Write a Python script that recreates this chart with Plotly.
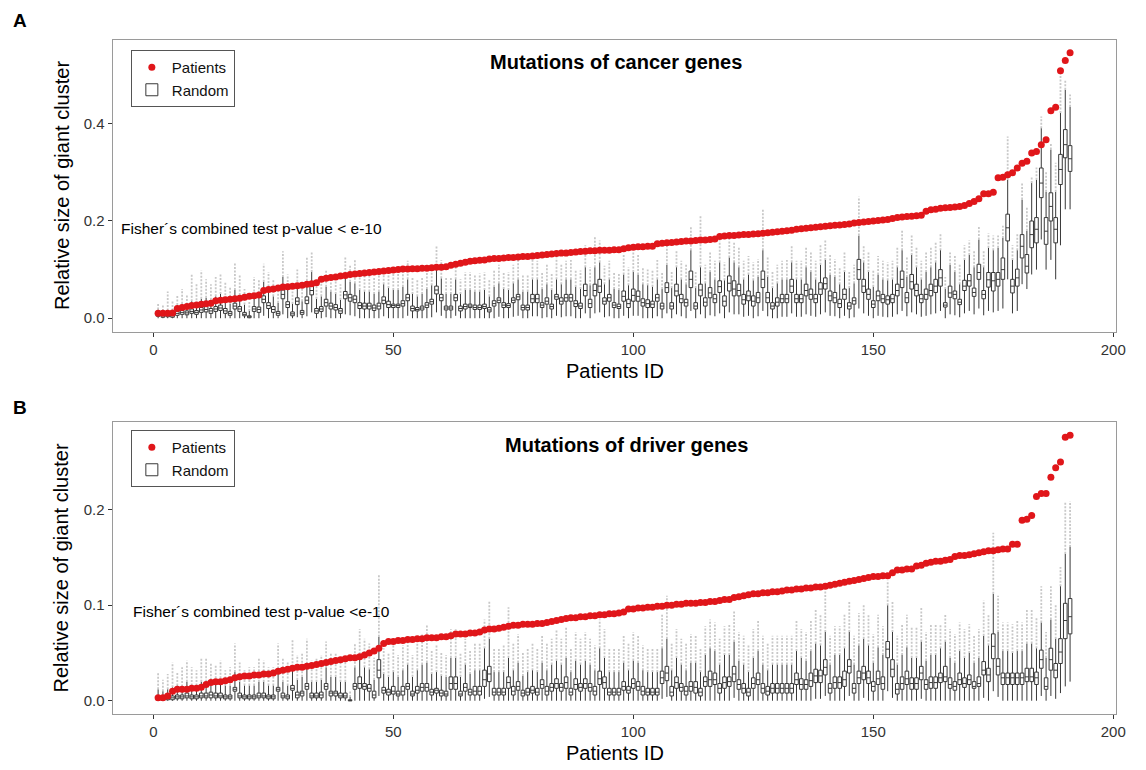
import plotly.graph_objects as go

W, H = 1146, 770
FONT = "Liberation Sans, Arial, Helvetica, sans-serif"

PATIENT_IDS = list(range(1, 192))

# ---------------- Panel A: mutations of cancer genes ----------------
A_PATIENTS = [
    0.010, 0.010, 0.010, 0.011, 0.020, 0.022, 0.024, 0.026, 0.027, 0.029,
    0.030, 0.031, 0.036, 0.037, 0.038, 0.039, 0.040, 0.041, 0.043, 0.045,
    0.046, 0.048, 0.057, 0.059, 0.060, 0.062, 0.064, 0.065, 0.066, 0.067,
    0.068, 0.070, 0.071, 0.073, 0.080, 0.082, 0.084, 0.085, 0.087, 0.088,
    0.090, 0.091, 0.092, 0.093, 0.094, 0.095, 0.096, 0.097, 0.098, 0.099,
    0.100, 0.101, 0.101, 0.102, 0.102, 0.103, 0.103, 0.104, 0.105, 0.105,
    0.106, 0.109, 0.111, 0.113, 0.115, 0.117, 0.118, 0.119, 0.120, 0.122,
    0.123, 0.123, 0.124, 0.125, 0.125, 0.126, 0.127, 0.127, 0.128, 0.129,
    0.130, 0.131, 0.132, 0.133, 0.134, 0.134, 0.135, 0.136, 0.137, 0.138,
    0.139, 0.139, 0.140, 0.140, 0.140, 0.141, 0.141, 0.143, 0.145, 0.146,
    0.147, 0.147, 0.148, 0.148, 0.153, 0.154, 0.155, 0.156, 0.157, 0.158,
    0.159, 0.159, 0.160, 0.161, 0.161, 0.162, 0.163, 0.168, 0.169, 0.170,
    0.170, 0.171, 0.172, 0.172, 0.173, 0.174, 0.175, 0.176, 0.177, 0.178,
    0.179, 0.180, 0.181, 0.183, 0.184, 0.185, 0.186, 0.187, 0.188, 0.189,
    0.190, 0.191, 0.192, 0.193, 0.194, 0.196, 0.197, 0.198, 0.199, 0.200,
    0.201, 0.202, 0.203, 0.205, 0.207, 0.208, 0.209, 0.210, 0.211, 0.212,
    0.220, 0.223, 0.224, 0.226, 0.227, 0.228, 0.229, 0.230, 0.232, 0.236,
    0.240, 0.246, 0.256, 0.256, 0.259, 0.289, 0.290, 0.295, 0.299, 0.309,
    0.319, 0.323, 0.340, 0.343, 0.357, 0.367, 0.427, 0.434, 0.509, 0.530,
    0.546]

A_Q1 = [
    0.004, 0.002, 0.003, 0.002, 0.006, 0.008, 0.007, 0.010, 0.008, 0.012,
    0.013, 0.010, 0.014, 0.016, 0.010, 0.006, 0.019, 0.014, 0.005, 0.001,
    0.014, 0.012, 0.032, 0.020, 0.012, 0.006, 0.040, 0.022, 0.005, 0.028,
    0.008, 0.030, 0.048, 0.010, 0.014, 0.025, 0.019, 0.017, 0.010, 0.040,
    0.035, 0.032, 0.020, 0.019, 0.019, 0.016, 0.019, 0.030, 0.022, 0.022,
    0.022, 0.025, 0.036, 0.015, 0.015, 0.017, 0.022, 0.029, 0.050, 0.036,
    0.017, 0.017, 0.036, 0.015, 0.019, 0.022, 0.018, 0.018, 0.020, 0.013,
    0.025, 0.032, 0.022, 0.022, 0.032, 0.038, 0.017, 0.017, 0.032, 0.032,
    0.022, 0.029, 0.019, 0.039, 0.029, 0.035, 0.035, 0.024, 0.020, 0.046,
    0.022, 0.046, 0.053, 0.029, 0.035, 0.022, 0.020, 0.035, 0.022, 0.035,
    0.035, 0.025, 0.022, 0.022, 0.035, 0.019, 0.053, 0.019, 0.046, 0.032,
    0.025, 0.063, 0.019, 0.046, 0.025, 0.042, 0.032, 0.053, 0.025, 0.056,
    0.046, 0.046, 0.029, 0.036, 0.025, 0.032, 0.063, 0.032, 0.019, 0.025,
    0.032, 0.032, 0.053, 0.032, 0.032, 0.046, 0.039, 0.032, 0.049, 0.060,
    0.036, 0.032, 0.022, 0.039, 0.019, 0.029, 0.080, 0.053, 0.039, 0.022,
    0.036, 0.032, 0.029, 0.032, 0.046, 0.063, 0.032, 0.060, 0.046, 0.032,
    0.039, 0.046, 0.053, 0.066, 0.023, 0.043, 0.040, 0.028, 0.057, 0.066,
    0.045, 0.080, 0.040, 0.064, 0.056, 0.066, 0.080, 0.159, 0.052, 0.066,
    0.124, 0.093, 0.145, 0.155, 0.248, 0.152, 0.200, 0.155, 0.275, 0.330,
    0.302]

A_MED = [
    0.007, 0.005, 0.006, 0.005, 0.010, 0.012, 0.011, 0.014, 0.012, 0.017,
    0.018, 0.015, 0.019, 0.021, 0.015, 0.010, 0.025, 0.019, 0.008, 0.003,
    0.019, 0.018, 0.039, 0.026, 0.018, 0.010, 0.049, 0.028, 0.009, 0.035,
    0.012, 0.037, 0.057, 0.015, 0.019, 0.032, 0.025, 0.022, 0.015, 0.048,
    0.042, 0.039, 0.026, 0.025, 0.025, 0.021, 0.025, 0.037, 0.028, 0.026,
    0.026, 0.030, 0.042, 0.020, 0.018, 0.021, 0.027, 0.034, 0.058, 0.042,
    0.021, 0.021, 0.042, 0.020, 0.024, 0.025, 0.022, 0.022, 0.024, 0.017,
    0.030, 0.037, 0.027, 0.026, 0.037, 0.044, 0.022, 0.022, 0.040, 0.040,
    0.027, 0.035, 0.024, 0.044, 0.035, 0.042, 0.042, 0.030, 0.025, 0.057,
    0.030, 0.057, 0.066, 0.035, 0.042, 0.027, 0.024, 0.045, 0.030, 0.047,
    0.045, 0.032, 0.030, 0.029, 0.042, 0.025, 0.063, 0.025, 0.056, 0.040,
    0.032, 0.080, 0.025, 0.058, 0.033, 0.052, 0.040, 0.065, 0.035, 0.072,
    0.060, 0.057, 0.038, 0.046, 0.035, 0.042, 0.080, 0.042, 0.025, 0.033,
    0.040, 0.040, 0.066, 0.040, 0.040, 0.057, 0.049, 0.040, 0.060, 0.071,
    0.046, 0.042, 0.030, 0.049, 0.025, 0.036, 0.100, 0.066, 0.049, 0.029,
    0.046, 0.040, 0.038, 0.040, 0.057, 0.080, 0.042, 0.075, 0.057, 0.040,
    0.049, 0.057, 0.066, 0.083, 0.027, 0.052, 0.049, 0.033, 0.066, 0.077,
    0.053, 0.094, 0.049, 0.079, 0.077, 0.080, 0.100, 0.186, 0.066, 0.083,
    0.148, 0.107, 0.172, 0.183, 0.278, 0.179, 0.230, 0.183, 0.306, 0.357,
    0.328]

A_Q3 = [
    0.010, 0.008, 0.009, 0.008, 0.014, 0.016, 0.015, 0.019, 0.016, 0.022,
    0.024, 0.020, 0.024, 0.027, 0.020, 0.014, 0.031, 0.024, 0.012, 0.005,
    0.024, 0.023, 0.046, 0.032, 0.024, 0.014, 0.058, 0.034, 0.013, 0.042,
    0.016, 0.044, 0.066, 0.020, 0.024, 0.039, 0.031, 0.028, 0.020, 0.055,
    0.049, 0.046, 0.032, 0.031, 0.031, 0.027, 0.031, 0.044, 0.035, 0.029,
    0.029, 0.036, 0.049, 0.025, 0.022, 0.025, 0.032, 0.039, 0.066, 0.049,
    0.025, 0.025, 0.049, 0.025, 0.029, 0.029, 0.027, 0.027, 0.029, 0.022,
    0.036, 0.042, 0.032, 0.030, 0.042, 0.049, 0.027, 0.027, 0.049, 0.049,
    0.032, 0.042, 0.029, 0.049, 0.042, 0.049, 0.049, 0.036, 0.031, 0.070,
    0.039, 0.070, 0.080, 0.042, 0.049, 0.032, 0.029, 0.056, 0.039, 0.060,
    0.056, 0.040, 0.038, 0.035, 0.049, 0.031, 0.073, 0.032, 0.070, 0.049,
    0.039, 0.097, 0.032, 0.070, 0.042, 0.063, 0.049, 0.077, 0.046, 0.087,
    0.077, 0.070, 0.049, 0.056, 0.046, 0.053, 0.097, 0.053, 0.032, 0.042,
    0.049, 0.049, 0.080, 0.049, 0.049, 0.070, 0.060, 0.049, 0.073, 0.083,
    0.056, 0.053, 0.039, 0.060, 0.032, 0.042, 0.121, 0.080, 0.060, 0.036,
    0.056, 0.049, 0.046, 0.049, 0.070, 0.097, 0.053, 0.090, 0.070, 0.049,
    0.060, 0.070, 0.080, 0.100, 0.032, 0.066, 0.056, 0.039, 0.078, 0.090,
    0.062, 0.111, 0.057, 0.094, 0.094, 0.094, 0.124, 0.214, 0.080, 0.101,
    0.172, 0.131, 0.200, 0.207, 0.309, 0.207, 0.258, 0.207, 0.337, 0.388,
    0.355]

A_LO = [
    0.000, 0.000, 0.000, 0.000, 0.000, 0.000, 0.000, 0.000, 0.000, 0.000,
    0.000, 0.000, 0.000, 0.000, 0.000, 0.000, 0.000, 0.000, 0.000, 0.000,
    0.000, 0.000, 0.005, 0.000, 0.000, 0.000, 0.008, 0.000, 0.000, 0.002,
    0.000, 0.004, 0.012, 0.000, 0.000, 0.002, 0.000, 0.000, 0.000, 0.008,
    0.006, 0.004, 0.000, 0.000, 0.000, 0.000, 0.000, 0.004, 0.000, 0.000,
    0.000, 0.000, 0.005, 0.000, 0.000, 0.000, 0.000, 0.002, 0.012, 0.005,
    0.000, 0.000, 0.005, 0.000, 0.000, 0.000, 0.000, 0.000, 0.000, 0.000,
    0.000, 0.003, 0.000, 0.000, 0.003, 0.005, 0.000, 0.000, 0.004, 0.004,
    0.000, 0.002, 0.000, 0.005, 0.002, 0.004, 0.004, 0.000, 0.000, 0.010,
    0.000, 0.010, 0.012, 0.002, 0.004, 0.000, 0.000, 0.005, 0.000, 0.005,
    0.005, 0.000, 0.000, 0.000, 0.004, 0.000, 0.010, 0.000, 0.008, 0.004,
    0.000, 0.015, 0.000, 0.008, 0.000, 0.006, 0.004, 0.010, 0.000, 0.012,
    0.008, 0.008, 0.003, 0.005, 0.000, 0.004, 0.015, 0.004, 0.000, 0.000,
    0.003, 0.003, 0.010, 0.003, 0.003, 0.008, 0.005, 0.003, 0.008, 0.012,
    0.005, 0.004, 0.000, 0.005, 0.000, 0.002, 0.020, 0.010, 0.005, 0.000,
    0.005, 0.003, 0.002, 0.003, 0.008, 0.015, 0.004, 0.012, 0.008, 0.003,
    0.005, 0.008, 0.010, 0.015, 0.000, 0.008, 0.006, 0.002, 0.010, 0.015,
    0.008, 0.020, 0.006, 0.015, 0.012, 0.015, 0.020, 0.080, 0.010, 0.015,
    0.070, 0.060, 0.090, 0.100, 0.162, 0.100, 0.120, 0.080, 0.150, 0.224,
    0.224]

A_HI = [
    0.018, 0.015, 0.016, 0.016, 0.027, 0.030, 0.028, 0.035, 0.030, 0.040,
    0.042, 0.038, 0.045, 0.050, 0.040, 0.030, 0.058, 0.048, 0.028, 0.015,
    0.048, 0.045, 0.075, 0.058, 0.045, 0.032, 0.085, 0.060, 0.030, 0.068,
    0.035, 0.070, 0.095, 0.040, 0.045, 0.065, 0.055, 0.050, 0.038, 0.085,
    0.075, 0.072, 0.058, 0.055, 0.055, 0.050, 0.055, 0.070, 0.062, 0.058,
    0.058, 0.065, 0.080, 0.050, 0.045, 0.050, 0.060, 0.068, 0.100, 0.082,
    0.050, 0.050, 0.080, 0.050, 0.058, 0.058, 0.055, 0.055, 0.058, 0.045,
    0.065, 0.072, 0.060, 0.058, 0.072, 0.080, 0.055, 0.055, 0.080, 0.080,
    0.060, 0.070, 0.058, 0.080, 0.070, 0.080, 0.080, 0.065, 0.060, 0.105,
    0.068, 0.105, 0.115, 0.070, 0.080, 0.060, 0.058, 0.090, 0.068, 0.095,
    0.090, 0.070, 0.068, 0.065, 0.080, 0.060, 0.110, 0.062, 0.105, 0.080,
    0.070, 0.140, 0.062, 0.105, 0.072, 0.095, 0.080, 0.115, 0.078, 0.125,
    0.115, 0.105, 0.080, 0.090, 0.078, 0.085, 0.140, 0.085, 0.062, 0.072,
    0.080, 0.080, 0.115, 0.080, 0.080, 0.105, 0.095, 0.080, 0.110, 0.120,
    0.090, 0.085, 0.070, 0.095, 0.062, 0.072, 0.170, 0.115, 0.095, 0.065,
    0.090, 0.080, 0.078, 0.080, 0.105, 0.140, 0.085, 0.130, 0.105, 0.080,
    0.095, 0.105, 0.115, 0.140, 0.060, 0.110, 0.095, 0.070, 0.120, 0.130,
    0.105, 0.162, 0.105, 0.145, 0.140, 0.145, 0.165, 0.285, 0.120, 0.140,
    0.244, 0.180, 0.278, 0.285, 0.391, 0.260, 0.347, 0.260, 0.422, 0.470,
    0.435]

A_MAX = [
    0.030, 0.028, 0.055, 0.035, 0.048, 0.060, 0.050, 0.090, 0.070, 0.098,
    0.080, 0.070, 0.085, 0.090, 0.075, 0.065, 0.115, 0.090, 0.060, 0.035,
    0.085, 0.080, 0.112, 0.095, 0.080, 0.060, 0.138, 0.090, 0.055, 0.100,
    0.065, 0.125, 0.138, 0.075, 0.085, 0.100, 0.090, 0.085, 0.070, 0.125,
    0.110, 0.122, 0.090, 0.095, 0.090, 0.085, 0.095, 0.105, 0.100, 0.095,
    0.092, 0.100, 0.118, 0.085, 0.078, 0.085, 0.095, 0.105, 0.150, 0.120,
    0.085, 0.085, 0.115, 0.080, 0.095, 0.095, 0.090, 0.092, 0.095, 0.080,
    0.100, 0.110, 0.095, 0.095, 0.110, 0.128, 0.090, 0.090, 0.120, 0.118,
    0.095, 0.110, 0.092, 0.125, 0.112, 0.118, 0.120, 0.100, 0.098, 0.150,
    0.105, 0.168, 0.160, 0.108, 0.118, 0.095, 0.092, 0.130, 0.105, 0.135,
    0.130, 0.105, 0.100, 0.100, 0.120, 0.095, 0.150, 0.098, 0.140, 0.118,
    0.110, 0.190, 0.098, 0.213, 0.110, 0.135, 0.118, 0.160, 0.115, 0.165,
    0.155, 0.145, 0.118, 0.128, 0.115, 0.122, 0.225, 0.125, 0.098, 0.110,
    0.118, 0.120, 0.150, 0.118, 0.118, 0.145, 0.135, 0.118, 0.150, 0.160,
    0.130, 0.122, 0.105, 0.135, 0.098, 0.110, 0.250, 0.150, 0.135, 0.100,
    0.128, 0.118, 0.115, 0.118, 0.145, 0.180, 0.125, 0.170, 0.145, 0.118,
    0.135, 0.145, 0.155, 0.175, 0.085, 0.135, 0.130, 0.110, 0.150, 0.160,
    0.140, 0.190, 0.140, 0.175, 0.170, 0.170, 0.190, 0.374, 0.150, 0.175,
    0.280, 0.230, 0.290, 0.310, 0.415, 0.300, 0.360, 0.320, 0.511, 0.490,
    0.460]

# ---------------- Panel B: mutations of driver genes ----------------
B_PATIENTS = [
    0.003, 0.003, 0.005, 0.010, 0.012, 0.012, 0.012, 0.013, 0.013, 0.014,
    0.017, 0.019, 0.020, 0.020, 0.021, 0.022, 0.024, 0.025, 0.026, 0.026,
    0.027, 0.027, 0.028, 0.028, 0.029, 0.031, 0.032, 0.033, 0.034, 0.035,
    0.035, 0.036, 0.037, 0.038, 0.039, 0.040, 0.041, 0.042, 0.043, 0.044,
    0.045, 0.045, 0.046, 0.048, 0.050, 0.052, 0.055, 0.060, 0.062, 0.062,
    0.063, 0.063, 0.064, 0.064, 0.065, 0.065, 0.066, 0.066, 0.066, 0.067,
    0.067, 0.068, 0.070, 0.070, 0.070, 0.071, 0.071, 0.072, 0.074, 0.075,
    0.075, 0.076, 0.077, 0.078, 0.079, 0.079, 0.080, 0.080, 0.080, 0.081,
    0.081, 0.082, 0.083, 0.084, 0.085, 0.086, 0.087, 0.087, 0.088, 0.088,
    0.089, 0.089, 0.090, 0.090, 0.091, 0.091, 0.092, 0.093, 0.096, 0.096,
    0.097, 0.097, 0.098, 0.098, 0.099, 0.099, 0.100, 0.100, 0.101, 0.101,
    0.102, 0.102, 0.102, 0.103, 0.103, 0.104, 0.104, 0.105, 0.106, 0.106,
    0.108, 0.109, 0.110, 0.111, 0.112, 0.112, 0.113, 0.113, 0.114, 0.114,
    0.115, 0.116, 0.116, 0.117, 0.117, 0.118, 0.118, 0.119, 0.119, 0.120,
    0.121, 0.122, 0.123, 0.124, 0.125, 0.126, 0.127, 0.128, 0.129, 0.130,
    0.130, 0.131, 0.131, 0.134, 0.137, 0.137, 0.138, 0.138, 0.141, 0.142,
    0.144, 0.145, 0.146, 0.146, 0.147, 0.148, 0.151, 0.152, 0.152, 0.153,
    0.154, 0.155, 0.156, 0.157, 0.157, 0.158, 0.159, 0.159, 0.164, 0.164,
    0.189, 0.190, 0.194, 0.214, 0.217, 0.217, 0.234, 0.244, 0.250, 0.276,
    0.278]

B_Q1 = [
    0.001, 0.001, 0.001, 0.001, 0.002, 0.002, 0.003, 0.002, 0.002, 0.003,
    0.003, 0.003, 0.003, 0.003, 0.002, 0.002, 0.010, 0.003, 0.002, 0.002,
    0.002, 0.003, 0.003, 0.002, 0.002, 0.010, 0.003, 0.002, 0.011, 0.003,
    0.005, 0.012, 0.003, 0.003, 0.003, 0.012, 0.005, 0.005, 0.003, 0.003,
    0.000, 0.012, 0.013, 0.012, 0.010, 0.003, 0.024, 0.008, 0.006, 0.007,
    0.005, 0.006, 0.012, 0.005, 0.008, 0.010, 0.010, 0.006, 0.008, 0.005,
    0.005, 0.012, 0.012, 0.005, 0.010, 0.006, 0.006, 0.006, 0.015, 0.020,
    0.006, 0.006, 0.006, 0.013, 0.006, 0.011, 0.005, 0.006, 0.008, 0.006,
    0.013, 0.006, 0.010, 0.013, 0.010, 0.013, 0.006, 0.012, 0.010, 0.013,
    0.010, 0.006, 0.017, 0.013, 0.006, 0.006, 0.006, 0.011, 0.008, 0.013,
    0.011, 0.006, 0.006, 0.006, 0.006, 0.018, 0.021, 0.005, 0.013, 0.010,
    0.006, 0.010, 0.008, 0.005, 0.015, 0.015, 0.017, 0.008, 0.013, 0.015,
    0.020, 0.012, 0.008, 0.005, 0.013, 0.017, 0.008, 0.006, 0.008, 0.008,
    0.008, 0.008, 0.008, 0.017, 0.012, 0.012, 0.015, 0.019, 0.019, 0.027,
    0.008, 0.013, 0.013, 0.015, 0.029, 0.008, 0.018, 0.022, 0.018, 0.010,
    0.017, 0.012, 0.045, 0.025, 0.007, 0.012, 0.017, 0.012, 0.012, 0.022,
    0.012, 0.013, 0.013, 0.019, 0.020, 0.013, 0.011, 0.017, 0.014, 0.017,
    0.013, 0.015, 0.027, 0.020, 0.044, 0.027, 0.017, 0.017, 0.017, 0.017,
    0.017, 0.020, 0.020, 0.017, 0.034, 0.012, 0.032, 0.024, 0.039, 0.065,
    0.070]

B_MED = [
    0.003, 0.003, 0.003, 0.003, 0.004, 0.004, 0.005, 0.004, 0.004, 0.005,
    0.005, 0.006, 0.005, 0.005, 0.004, 0.004, 0.012, 0.005, 0.004, 0.004,
    0.004, 0.005, 0.005, 0.004, 0.004, 0.012, 0.005, 0.004, 0.013, 0.006,
    0.008, 0.015, 0.005, 0.005, 0.006, 0.015, 0.008, 0.008, 0.005, 0.005,
    0.000, 0.015, 0.018, 0.015, 0.013, 0.006, 0.032, 0.011, 0.009, 0.010,
    0.007, 0.010, 0.015, 0.007, 0.011, 0.014, 0.014, 0.009, 0.011, 0.008,
    0.007, 0.018, 0.018, 0.007, 0.014, 0.009, 0.010, 0.010, 0.022, 0.028,
    0.009, 0.009, 0.009, 0.019, 0.010, 0.015, 0.008, 0.009, 0.011, 0.009,
    0.017, 0.010, 0.014, 0.018, 0.014, 0.019, 0.009, 0.017, 0.014, 0.018,
    0.014, 0.010, 0.023, 0.019, 0.009, 0.009, 0.009, 0.015, 0.011, 0.018,
    0.015, 0.010, 0.009, 0.009, 0.009, 0.024, 0.029, 0.009, 0.019, 0.014,
    0.010, 0.015, 0.014, 0.009, 0.020, 0.022, 0.022, 0.013, 0.019, 0.020,
    0.028, 0.017, 0.013, 0.009, 0.018, 0.022, 0.013, 0.010, 0.013, 0.013,
    0.013, 0.013, 0.013, 0.022, 0.017, 0.017, 0.021, 0.026, 0.026, 0.035,
    0.013, 0.019, 0.019, 0.022, 0.036, 0.013, 0.024, 0.029, 0.024, 0.015,
    0.023, 0.018, 0.054, 0.033, 0.012, 0.018, 0.023, 0.018, 0.018, 0.029,
    0.017, 0.019, 0.019, 0.024, 0.025, 0.017, 0.015, 0.022, 0.018, 0.022,
    0.015, 0.018, 0.032, 0.027, 0.057, 0.036, 0.024, 0.024, 0.024, 0.024,
    0.024, 0.025, 0.025, 0.024, 0.043, 0.015, 0.043, 0.032, 0.051, 0.084,
    0.088]

B_Q3 = [
    0.004, 0.004, 0.004, 0.005, 0.006, 0.006, 0.008, 0.006, 0.006, 0.008,
    0.008, 0.009, 0.008, 0.008, 0.006, 0.006, 0.014, 0.008, 0.006, 0.006,
    0.006, 0.008, 0.008, 0.006, 0.006, 0.014, 0.008, 0.006, 0.016, 0.009,
    0.010, 0.018, 0.008, 0.008, 0.009, 0.018, 0.010, 0.010, 0.008, 0.008,
    0.001, 0.018, 0.025, 0.018, 0.017, 0.010, 0.043, 0.014, 0.012, 0.015,
    0.010, 0.015, 0.018, 0.010, 0.015, 0.018, 0.018, 0.012, 0.013, 0.011,
    0.010, 0.025, 0.025, 0.010, 0.018, 0.012, 0.015, 0.015, 0.032, 0.036,
    0.013, 0.013, 0.013, 0.025, 0.015, 0.020, 0.011, 0.013, 0.015, 0.013,
    0.022, 0.015, 0.018, 0.023, 0.018, 0.025, 0.013, 0.023, 0.018, 0.023,
    0.018, 0.015, 0.031, 0.025, 0.013, 0.013, 0.013, 0.020, 0.015, 0.023,
    0.020, 0.015, 0.013, 0.013, 0.013, 0.031, 0.036, 0.015, 0.025, 0.018,
    0.015, 0.020, 0.020, 0.013, 0.025, 0.031, 0.029, 0.018, 0.025, 0.025,
    0.036, 0.022, 0.018, 0.013, 0.024, 0.029, 0.018, 0.015, 0.018, 0.018,
    0.018, 0.018, 0.018, 0.029, 0.023, 0.022, 0.029, 0.033, 0.032, 0.043,
    0.018, 0.025, 0.025, 0.031, 0.043, 0.018, 0.031, 0.036, 0.031, 0.020,
    0.031, 0.025, 0.062, 0.043, 0.018, 0.025, 0.031, 0.024, 0.024, 0.036,
    0.022, 0.025, 0.025, 0.029, 0.036, 0.024, 0.020, 0.029, 0.024, 0.027,
    0.020, 0.025, 0.041, 0.034, 0.070, 0.044, 0.029, 0.029, 0.029, 0.029,
    0.029, 0.034, 0.034, 0.030, 0.053, 0.024, 0.055, 0.039, 0.065, 0.102,
    0.107]

B_LO = [
    0.000, 0.000, 0.000, 0.000, 0.000, 0.000, 0.000, 0.000, 0.000, 0.000,
    0.000, 0.000, 0.000, 0.000, 0.000, 0.000, 0.000, 0.000, 0.000, 0.000,
    0.000, 0.000, 0.000, 0.000, 0.000, 0.000, 0.000, 0.000, 0.000, 0.000,
    0.000, 0.000, 0.000, 0.000, 0.000, 0.000, 0.000, 0.000, 0.000, 0.000,
    0.000, 0.000, 0.000, 0.000, 0.000, 0.000, 0.005, 0.000, 0.000, 0.000,
    0.000, 0.000, 0.000, 0.000, 0.000, 0.000, 0.000, 0.000, 0.000, 0.000,
    0.000, 0.000, 0.000, 0.000, 0.000, 0.000, 0.000, 0.000, 0.002, 0.004,
    0.000, 0.000, 0.000, 0.000, 0.000, 0.000, 0.000, 0.000, 0.000, 0.000,
    0.000, 0.000, 0.000, 0.000, 0.000, 0.000, 0.000, 0.000, 0.000, 0.000,
    0.000, 0.000, 0.000, 0.000, 0.000, 0.000, 0.000, 0.000, 0.000, 0.000,
    0.000, 0.000, 0.000, 0.000, 0.000, 0.002, 0.004, 0.000, 0.000, 0.000,
    0.000, 0.000, 0.000, 0.000, 0.000, 0.000, 0.000, 0.000, 0.000, 0.000,
    0.003, 0.000, 0.000, 0.000, 0.000, 0.000, 0.000, 0.000, 0.000, 0.000,
    0.000, 0.000, 0.000, 0.000, 0.000, 0.000, 0.000, 0.002, 0.002, 0.005,
    0.000, 0.000, 0.000, 0.000, 0.005, 0.000, 0.000, 0.003, 0.000, 0.000,
    0.000, 0.000, 0.010, 0.003, 0.000, 0.000, 0.000, 0.000, 0.000, 0.002,
    0.000, 0.000, 0.000, 0.000, 0.000, 0.000, 0.000, 0.000, 0.000, 0.000,
    0.000, 0.000, 0.003, 0.000, 0.010, 0.004, 0.000, 0.000, 0.000, 0.000,
    0.000, 0.000, 0.000, 0.000, 0.005, 0.000, 0.005, 0.002, 0.008, 0.015,
    0.020]

B_HI = [
    0.012, 0.010, 0.012, 0.014, 0.016, 0.015, 0.020, 0.016, 0.016, 0.020,
    0.020, 0.022, 0.020, 0.020, 0.016, 0.016, 0.030, 0.020, 0.016, 0.016,
    0.016, 0.020, 0.020, 0.016, 0.016, 0.030, 0.020, 0.016, 0.032, 0.022,
    0.025, 0.035, 0.020, 0.020, 0.022, 0.035, 0.025, 0.025, 0.020, 0.020,
    0.004, 0.035, 0.045, 0.035, 0.033, 0.022, 0.067, 0.028, 0.025, 0.030,
    0.025, 0.032, 0.038, 0.025, 0.032, 0.038, 0.040, 0.028, 0.030, 0.026,
    0.025, 0.045, 0.045, 0.025, 0.038, 0.028, 0.032, 0.032, 0.055, 0.065,
    0.030, 0.030, 0.030, 0.045, 0.032, 0.040, 0.026, 0.030, 0.032, 0.030,
    0.040, 0.032, 0.038, 0.042, 0.038, 0.045, 0.030, 0.042, 0.038, 0.042,
    0.038, 0.032, 0.055, 0.045, 0.030, 0.030, 0.030, 0.040, 0.032, 0.042,
    0.040, 0.032, 0.030, 0.030, 0.030, 0.055, 0.065, 0.032, 0.045, 0.038,
    0.032, 0.040, 0.040, 0.030, 0.048, 0.055, 0.052, 0.038, 0.048, 0.048,
    0.062, 0.042, 0.038, 0.030, 0.045, 0.052, 0.038, 0.032, 0.038, 0.038,
    0.038, 0.038, 0.038, 0.052, 0.045, 0.042, 0.052, 0.060, 0.058, 0.072,
    0.038, 0.048, 0.048, 0.055, 0.072, 0.038, 0.058, 0.065, 0.058, 0.040,
    0.056, 0.048, 0.100, 0.072, 0.038, 0.048, 0.056, 0.045, 0.045, 0.062,
    0.042, 0.048, 0.048, 0.055, 0.062, 0.045, 0.040, 0.052, 0.045, 0.050,
    0.040, 0.045, 0.068, 0.058, 0.112, 0.072, 0.052, 0.052, 0.050, 0.052,
    0.052, 0.060, 0.060, 0.055, 0.082, 0.045, 0.085, 0.065, 0.120, 0.154,
    0.161]

B_MAX = [
    0.030, 0.022, 0.028, 0.040, 0.030, 0.035, 0.042, 0.035, 0.032, 0.045,
    0.045, 0.040, 0.038, 0.042, 0.032, 0.035, 0.060, 0.040, 0.032, 0.035,
    0.035, 0.045, 0.042, 0.035, 0.035, 0.060, 0.045, 0.040, 0.065, 0.048,
    0.050, 0.065, 0.042, 0.045, 0.048, 0.062, 0.050, 0.050, 0.045, 0.042,
    0.010, 0.060, 0.075, 0.065, 0.060, 0.045, 0.133, 0.055, 0.050, 0.058,
    0.048, 0.058, 0.065, 0.048, 0.060, 0.070, 0.079, 0.052, 0.058, 0.050,
    0.048, 0.075, 0.075, 0.050, 0.065, 0.052, 0.060, 0.060, 0.085, 0.105,
    0.055, 0.055, 0.058, 0.098, 0.060, 0.070, 0.050, 0.055, 0.060, 0.055,
    0.068, 0.060, 0.065, 0.075, 0.065, 0.078, 0.055, 0.072, 0.065, 0.072,
    0.065, 0.058, 0.085, 0.075, 0.055, 0.055, 0.055, 0.068, 0.060, 0.072,
    0.068, 0.058, 0.055, 0.055, 0.055, 0.090, 0.110, 0.060, 0.075, 0.065,
    0.060, 0.070, 0.068, 0.055, 0.078, 0.085, 0.082, 0.065, 0.078, 0.080,
    0.095, 0.072, 0.068, 0.058, 0.075, 0.085, 0.068, 0.060, 0.068, 0.068,
    0.068, 0.068, 0.068, 0.085, 0.075, 0.072, 0.085, 0.095, 0.090, 0.115,
    0.068, 0.078, 0.078, 0.090, 0.105, 0.068, 0.092, 0.100, 0.090, 0.070,
    0.090, 0.078, 0.126, 0.105, 0.068, 0.080, 0.090, 0.078, 0.078, 0.098,
    0.072, 0.080, 0.080, 0.080, 0.090, 0.075, 0.070, 0.082, 0.075, 0.080,
    0.068, 0.075, 0.105, 0.090, 0.176, 0.110, 0.082, 0.082, 0.080, 0.085,
    0.082, 0.095, 0.095, 0.088, 0.120, 0.072, 0.120, 0.100, 0.140, 0.209,
    0.209]

for _arr in (A_PATIENTS, A_Q1, A_MED, A_Q3, A_LO, A_HI, A_MAX,
             B_PATIENTS, B_Q1, B_MED, B_Q3, B_LO, B_HI, B_MAX):
    assert len(_arr) == len(PATIENT_IDS)


def px(x):
    return x / W


def py(y):
    return 1 - y / H


fig = go.Figure()


def add_panel(xa, ya, legend, patients, q1, med, q3, lo, hi, mx):
    # outlying random draws: light grey dotted columns above the whiskers
    ox, oy = [], []
    for pid, h, m in zip(PATIENT_IDS, hi, mx):
        if m > h:
            ox += [pid, pid, None]
            oy += [h, m, None]
    fig.add_trace(go.Scatter(
        x=ox, y=oy, mode="lines",
        line=dict(color="#c8c8c8", width=1.8, dash="2px,1.5px"),
        hoverinfo="skip", showlegend=False, xaxis=xa, yaxis=ya))
    # random-sample distributions
    fig.add_trace(go.Box(
        x=PATIENT_IDS, q1=q1, median=med, q3=q3,
        lowerfence=lo, upperfence=hi,
        width=0.75, whiskerwidth=0, boxpoints=False,
        line=dict(color="#383838", width=1), fillcolor="white",
        name="Random", legend=legend, legendrank=2,
        hoverinfo="skip", xaxis=xa, yaxis=ya))
    # observed patients
    fig.add_trace(go.Scatter(
        x=PATIENT_IDS, y=patients, mode="markers",
        marker=dict(color="#e0161a", size=7),
        name="Patients", legend=legend, legendrank=1,
        xaxis=xa, yaxis=ya))


add_panel("x", "y", "legend", A_PATIENTS, A_Q1, A_MED, A_Q3, A_LO, A_HI, A_MAX)
add_panel("x2", "y2", "legend2", B_PATIENTS, B_Q1, B_MED, B_Q3, B_LO, B_HI, B_MAX)

X_DOMAIN = [px(113.5), px(1125.5)]
A_TOP, A_BOT = 39.5, 331.5
B_TOP, B_BOT = 422.0, 714.0

axis_common = dict(
    showgrid=False, zeroline=False, showline=True, mirror=True,
    linecolor="#9a9a9a", linewidth=1,
    ticks="outside", ticklen=4, tickcolor="#333333", tickwidth=1,
    tickfont=dict(family=FONT, size=15, color="#333333"),
)

legend_common = dict(
    xanchor="left", yanchor="top", x=px(132),
    bgcolor="white", bordercolor="#555555", borderwidth=1,
    font=dict(family=FONT, size=15, color="#111111"),
    itemclick=False, itemdoubleclick=False, tracegroupgap=0,
)

fig.update_layout(
    width=W, height=H,
    margin=dict(l=0, r=0, t=0, b=0),
    paper_bgcolor="white", plot_bgcolor="white",
    showlegend=True, boxmode="overlay",
    xaxis=dict(domain=X_DOMAIN, anchor="y", range=[-8.5, 200.5],
               tickvals=[0, 50, 100, 150, 200], **axis_common),
    yaxis=dict(domain=[py(A_BOT), py(A_TOP)], anchor="x",
               range=[-0.0273, 0.5733], tickvals=[0, 0.2, 0.4],
               ticktext=["0.0", "0.2", "0.4"], **axis_common),
    xaxis2=dict(domain=X_DOMAIN, anchor="y2", range=[-8.5, 200.5],
                tickvals=[0, 50, 100, 150, 200], **axis_common),
    yaxis2=dict(domain=[py(B_BOT), py(B_TOP)], anchor="x2",
                range=[-0.0139, 0.2919], tickvals=[0, 0.1, 0.2],
                ticktext=["0.0", "0.1", "0.2"], **axis_common),
    legend=dict(y=py(50), **legend_common),
    legend2=dict(y=py(430), **legend_common),
)


def note(x, y, text, size, bold=False, anchor="center", angle=0, color="black"):
    fig.add_annotation(
        x=px(x), y=py(y), xref="paper", yref="paper",
        text=f"<b>{text}</b>" if bold else text,
        showarrow=False, xanchor=anchor, yanchor="middle", textangle=angle,
        font=dict(family=FONT, size=size, color=color))


# panel letters
note(20, 20, "A", 19, bold=True)
note(20, 408, "B", 19, bold=True)
# panel titles
note(621, 62, "Mutations of cancer genes", 20, bold=True)
note(632, 445, "Mutations of driver genes", 20, bold=True)
# test results
note(120, 229, "Fisher´s combined test p-value < e-10", 15.5, anchor="left")
note(132, 611, "Fisher´s combined test p-value <e-10", 15.5, anchor="left")
# axis titles
note(62, (A_TOP + A_BOT) / 2, "Relative size of giant cluster", 20, angle=-90)
note(62, (B_TOP + B_BOT) / 2, "Relative size of giant cluster", 20, angle=-90)
note(620, 371, "Patients ID", 20)
note(620, 753, "Patients ID", 20)

fig.write_html("out.html")
